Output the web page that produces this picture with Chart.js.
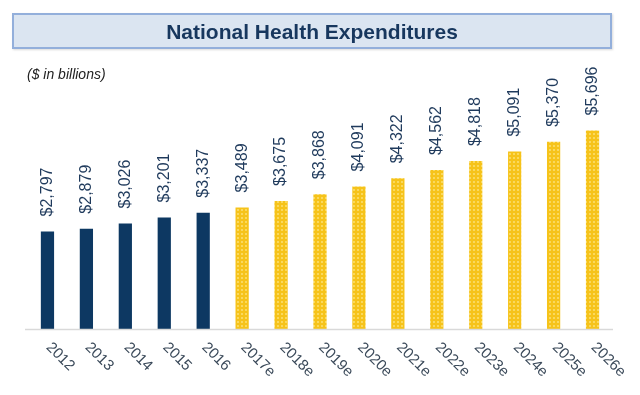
<!DOCTYPE html>
<html lang="en">
<head>
    <meta charset="UTF-8">
    <title>National Health Expenditures</title>
    <script src="https://cdn.jsdelivr.net/npm/chart.js"></script>
    <style>
        body { margin: 0; background: #fff; font-family: "Liberation Sans", Arial, sans-serif; }
        .wrap { position: relative; width: 640px; height: 395px; }
        .title {
            position: absolute; left: 12px; top: 13px; width: 596px; height: 32px;
            background: #dbe5f1; border: 2px solid #93afdb;
            box-shadow: 1px 1px 2px rgba(0,0,0,0.15);
            color: #17375e; font-weight: bold; font-size: 21px;
            text-align: center; line-height: 33px;
        }
        .unit { position: absolute; left: 27px; top: 66px; font-size: 14px; font-style: italic; color: #222; }
        canvas { position: absolute; left: 0; top: 0; }
    </style>
</head>
<body>
    <div class="wrap">
        <canvas id="myChart" width="640" height="395"></canvas>
        <div class="title">National Health Expenditures</div>
        <div class="unit">($ in billions)</div>
    </div>

    <script>
        const years = ['2012', '2013', '2014', '2015', '2016', '2017e', '2018e', '2019e', '2020e',
                       '2021e', '2022e', '2023e', '2024e', '2025e', '2026e'];
        const spending = [2797, 2879, 3026, 3201, 3337, 3489, 3675, 3868, 4091, 4322, 4562, 4818, 5091, 5370, 5696];
        const valueLabels = ['$2,797', '$2,879', '$3,026', '$3,201', '$3,337', '$3,489', '$3,675', '$3,868',
                             '$4,091', '$4,322', '$4,562', '$4,818', '$5,091', '$5,370', '$5,696'];
        const actualCount = 5; // 2012-2016 are actuals, rest are estimates

        // dotted yellow fill for the estimate bars
        const pc = document.createElement('canvas');
        pc.width = 4; pc.height = 4;
        const p = pc.getContext('2d');
        p.fillStyle = '#f6c31a';
        p.fillRect(0, 0, 4, 4);
        p.fillStyle = '#fad95e';
        p.fillRect(1, 1, 2, 2);

        const ctx = document.getElementById('myChart').getContext('2d');
        const dotted = ctx.createPattern(pc, 'repeat');
        const colors = spending.map((v, i) => i < actualCount ? '#0d3862' : dotted);

        const labelPlugin = {
            id: 'labels',
            afterDatasetsDraw(chart) {
                const c = chart.ctx;
                const meta = chart.getDatasetMeta(0);
                const xScale = chart.scales.x;
                const base = chart.chartArea.bottom;
                c.save();
                // axis line
                c.strokeStyle = '#d9d9d9';
                c.lineWidth = 1.5;
                c.beginPath();
                c.moveTo(25, base + 0.5);
                c.lineTo(613, base + 0.5);
                c.stroke();

                c.font = '16px "Liberation Sans", Arial, sans-serif';
                c.fillStyle = '#1f3a5c';
                c.textAlign = 'left';
                c.textBaseline = 'middle';
                meta.data.forEach((bar, i) => {
                    c.save();
                    c.translate(bar.x, bar.y - 15);
                    c.rotate(-Math.PI / 2);
                    c.fillText(valueLabels[i], 0, 0);
                    c.restore();
                });

                c.font = '15px "Liberation Sans", Arial, sans-serif';
                c.fillStyle = '#3b4a5a';
                years.forEach((y, i) => {
                    c.save();
                    c.translate(xScale.getPixelForTick(i) + 1, base + 16);
                    c.rotate(Math.PI / 4);
                    c.fillText(y, 0, 0);
                    c.restore();
                });
                c.restore();
            }
        };

        new Chart(ctx, {
            type: 'bar',
            data: {
                labels: years,
                datasets: [{
                    data: spending,
                    backgroundColor: colors,
                    barPercentage: 0.34,
                    categoryPercentage: 1
                }]
            },
            options: {
                responsive: false,
                animation: false,
                layout: { padding: { left: 28, right: 28, top: 85, bottom: 66 } },
                plugins: { legend: { display: false }, tooltip: { enabled: false } },
                scales: {
                    x: { display: false },
                    y: { display: false, min: 0, max: 7000 }
                }
            },
            plugins: [labelPlugin]
        });
    </script>
</body>
</html>
